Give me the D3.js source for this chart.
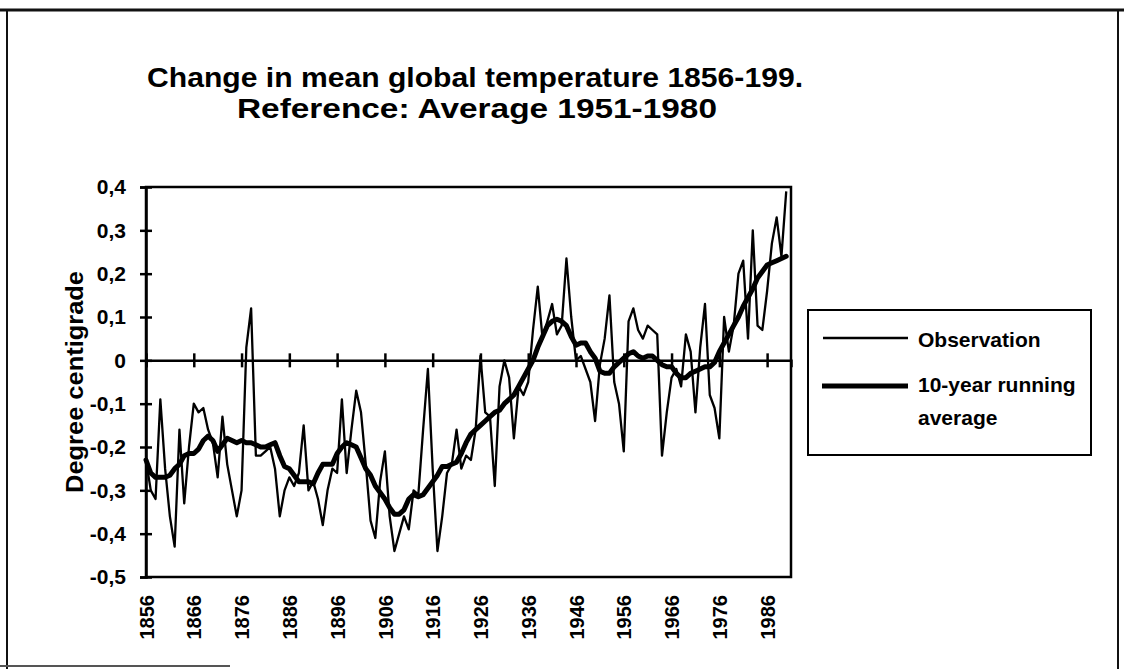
<!DOCTYPE html>
<html>
<head>
<meta charset="utf-8">
<script src="https://cdn.jsdelivr.net/npm/d3@7/dist/d3.min.js"></script>
<style>
  html, body { margin: 0; padding: 0; background: #fff; }
  svg { display: block; }
  text { font-family: "Liberation Sans", Arial, Helvetica, sans-serif; font-weight: bold; fill: #000; }
</style>
</head>
<body>
<svg id="chart" width="1124" height="669"></svg>
<script>
// ---- data ----
const startYear = 1856;
const observation = [
  -0.23, -0.30, -0.32, -0.09, -0.25, -0.36, -0.43, -0.16, -0.33, -0.20,   // 1856-1865
  -0.10, -0.12, -0.11, -0.16, -0.19, -0.27, -0.13, -0.24, -0.30, -0.36,   // 1866-1875
  -0.30,  0.03,  0.12, -0.22, -0.22, -0.21, -0.20, -0.25, -0.36, -0.30,   // 1876-1885
  -0.27, -0.29, -0.26, -0.15, -0.30, -0.28, -0.32, -0.38, -0.30, -0.25,   // 1886-1895
  -0.26, -0.09, -0.26, -0.16, -0.07, -0.12, -0.24, -0.37, -0.41, -0.28,   // 1896-1905
  -0.21, -0.36, -0.44, -0.40, -0.36, -0.39, -0.30, -0.31, -0.16, -0.02,   // 1906-1915
  -0.25, -0.44, -0.36, -0.26, -0.24, -0.16, -0.25, -0.22, -0.23, -0.16,   // 1916-1925
   0.01, -0.12, -0.13, -0.29, -0.06,  0.00, -0.04, -0.18, -0.06, -0.08,   // 1926-1935
  -0.05,  0.07,  0.17,  0.05,  0.09,  0.13,  0.06,  0.08,  0.235, 0.10,   // 1936-1945
   0.00,  0.01, -0.02, -0.05, -0.14, -0.01,  0.05,  0.15, -0.05, -0.10,   // 1946-1955
  -0.21,  0.09,  0.12,  0.07,  0.05,  0.08,  0.07,  0.06, -0.22, -0.12,   // 1956-1965
  -0.04, -0.02, -0.06,  0.06,  0.02, -0.12,  0.03,  0.13, -0.08, -0.11,   // 1966-1975
  -0.18,  0.10,  0.02,  0.08,  0.20,  0.23,  0.05,  0.30,  0.08,  0.07,   // 1976-1985
   0.16,  0.27,  0.33,  0.24,  0.39                                        // 1986-1990
];
const runningAverage = [
  -0.23, -0.26, -0.27, -0.27, -0.27, -0.265, -0.25, -0.24, -0.22, -0.215,
  -0.215, -0.205, -0.185, -0.175, -0.185, -0.21, -0.195, -0.18, -0.185, -0.19,
  -0.185, -0.19, -0.19, -0.195, -0.20, -0.20, -0.195, -0.19, -0.22, -0.245,
  -0.25, -0.265, -0.28, -0.28, -0.28, -0.285, -0.26, -0.24, -0.24, -0.24,
  -0.215, -0.20, -0.19, -0.195, -0.20, -0.225, -0.25, -0.265, -0.29, -0.305,
  -0.32, -0.34, -0.355, -0.355, -0.345, -0.32, -0.31, -0.315, -0.31, -0.295,
  -0.28, -0.265, -0.245, -0.245, -0.24, -0.235, -0.215, -0.19, -0.17, -0.16,
  -0.15, -0.14, -0.13, -0.12, -0.115, -0.10, -0.09, -0.08, -0.06, -0.04,
  -0.02, 0.00, 0.03, 0.055, 0.08, 0.09, 0.095, 0.09, 0.08, 0.055,
  0.035, 0.04, 0.04, 0.02, 0.005, -0.025, -0.03, -0.03, -0.015, -0.005,
  0.005, 0.015, 0.02, 0.01, 0.005, 0.01, 0.01, 0.00, -0.01, -0.015,
  -0.015, -0.03, -0.04, -0.04, -0.03, -0.025, -0.02, -0.015, -0.015, -0.005,
  0.02, 0.04, 0.06, 0.08, 0.10, 0.125, 0.145, 0.165, 0.19, 0.205,
  0.22, 0.225, 0.23, 0.235, 0.24
];
const yTicks = [0.4, 0.3, 0.2, 0.1, 0, -0.1, -0.2, -0.3, -0.4, -0.5];
const xTickYears = [1856, 1866, 1876, 1886, 1896, 1906, 1916, 1926, 1936, 1946, 1956, 1966, 1976, 1986];
const titleLines = ["Change in mean global temperature 1856-199.", "Reference: Average 1951-1980"];
const yTitle = "Degree centigrade";
const legendNames = ["Observation", "10-year running", "average"];

// ---- drawing ----
const svg = d3.select("#chart");
const plot = { left: 146, right: 791, top: 187, bottom: 577 };

const x = d3.scaleLinear().domain([1856, 1991]).range([plot.left, plot.right]);
const y = d3.scaleLinear().domain([-0.5, 0.4]).range([plot.bottom, plot.top]);

const locale = d3.formatLocale({ decimal: ",", thousands: ".", grouping: [3], currency: ["", ""], minus: "-" });
const fmt = v => v === 0 ? "0" : locale.format(".1f")(v);

// outer frame
svg.append("line").attr("x1", 0).attr("x2", 1124).attr("y1", 10).attr("y2", 10)
  .attr("stroke", "#111").attr("stroke-width", 3);
svg.append("line").attr("x1", 7).attr("x2", 7).attr("y1", 10).attr("y2", 669)
  .attr("stroke", "#111").attr("stroke-width", 2);
svg.append("line").attr("x1", 1118).attr("x2", 1118).attr("y1", 10).attr("y2", 669)
  .attr("stroke", "#111").attr("stroke-width", 2);
svg.append("line").attr("x1", 0).attr("x2", 230).attr("y1", 666).attr("y2", 666)
  .attr("stroke", "#555").attr("stroke-width", 2);

// titles
svg.append("text").attr("x", 475).attr("y", 87).attr("text-anchor", "middle")
  .attr("font-size", 28).attr("textLength", 656).attr("lengthAdjust", "spacingAndGlyphs")
  .text(titleLines[0]);
svg.append("text").attr("x", 477).attr("y", 118).attr("text-anchor", "middle")
  .attr("font-size", 28).attr("textLength", 480).attr("lengthAdjust", "spacingAndGlyphs")
  .text(titleLines[1]);

// y axis title
svg.append("text")
  .attr("transform", `translate(83, ${(plot.top + plot.bottom) / 2}) rotate(-90)`)
  .attr("text-anchor", "middle").attr("font-size", 23)
  .attr("textLength", 222).attr("lengthAdjust", "spacingAndGlyphs")
  .text(yTitle);

// plot frame
svg.append("rect").attr("x", plot.left).attr("y", plot.top)
  .attr("width", plot.right - plot.left).attr("height", plot.bottom - plot.top)
  .attr("fill", "none").attr("stroke", "#000").attr("stroke-width", 2.5);

// y axis
const yAxis = d3.axisLeft(y).tickValues(yTicks).tickFormat(fmt).tickSize(6).tickPadding(14);
const gy = svg.append("g").attr("transform", `translate(${plot.left},0)`).call(yAxis);
gy.select(".domain").attr("stroke", "#000").attr("stroke-width", 2.5);
gy.selectAll(".tick line").attr("x1", 6).attr("x2", -6).attr("stroke", "#000").attr("stroke-width", 2.5);
gy.selectAll(".tick text").attr("font-size", 21).attr("font-family", null).attr("fill", "#000");

// x axis at zero (ticks only)
const xAxisZero = d3.axisBottom(x).tickValues(xTickYears).tickFormat("").tickSize(7);
const gx0 = svg.append("g").attr("transform", `translate(0,${y(0)})`).call(xAxisZero);
gx0.select(".domain").attr("stroke", "#000").attr("stroke-width", 2.5);
gx0.selectAll(".tick line").attr("y1", -7).attr("y2", 7).attr("stroke", "#000").attr("stroke-width", 2.5);

// x axis labels at bottom
const xAxisBottom = d3.axisBottom(x).tickValues(xTickYears).tickFormat(d3.format("d")).tickSize(0);
const gxb = svg.append("g").attr("transform", `translate(0,${plot.bottom})`).call(xAxisBottom);
gxb.select(".domain").remove();
gxb.selectAll(".tick text")
  .attr("font-size", 20).attr("font-family", null).attr("fill", "#000")
  .attr("text-anchor", "end")
  .attr("transform", "rotate(-90)")
  .attr("x", -18).attr("y", 0).attr("dy", "0.36em");

// series
const years = observation.map((_, i) => startYear + i);
const line = d3.line().x((d, i) => x(years[i])).y(d => y(d));

svg.append("path").datum(observation).attr("d", line)
  .attr("fill", "none").attr("stroke", "#000").attr("stroke-width", 2.3)
  .attr("stroke-linejoin", "round");
svg.append("path").datum(runningAverage).attr("d", line)
  .attr("fill", "none").attr("stroke", "#000").attr("stroke-width", 5)
  .attr("stroke-linejoin", "round").attr("stroke-linecap", "round");

// legend
const lg = svg.append("g");
lg.append("rect").attr("x", 808).attr("y", 310).attr("width", 283).attr("height", 145)
  .attr("fill", "#fff").attr("stroke", "#000").attr("stroke-width", 2);
lg.append("line").attr("x1", 823).attr("x2", 908).attr("y1", 338).attr("y2", 338)
  .attr("stroke", "#000").attr("stroke-width", 2.3);
lg.append("text").attr("x", 918).attr("y", 347).attr("font-size", 21).text(legendNames[0]);
lg.append("line").attr("x1", 822).attr("x2", 908).attr("y1", 386).attr("y2", 386)
  .attr("stroke", "#000").attr("stroke-width", 5);
lg.append("text").attr("x", 918).attr("y", 392).attr("font-size", 21).text(legendNames[1]);
lg.append("text").attr("x", 918).attr("y", 425).attr("font-size", 21).text(legendNames[2]);
</script>
</body>
</html>
